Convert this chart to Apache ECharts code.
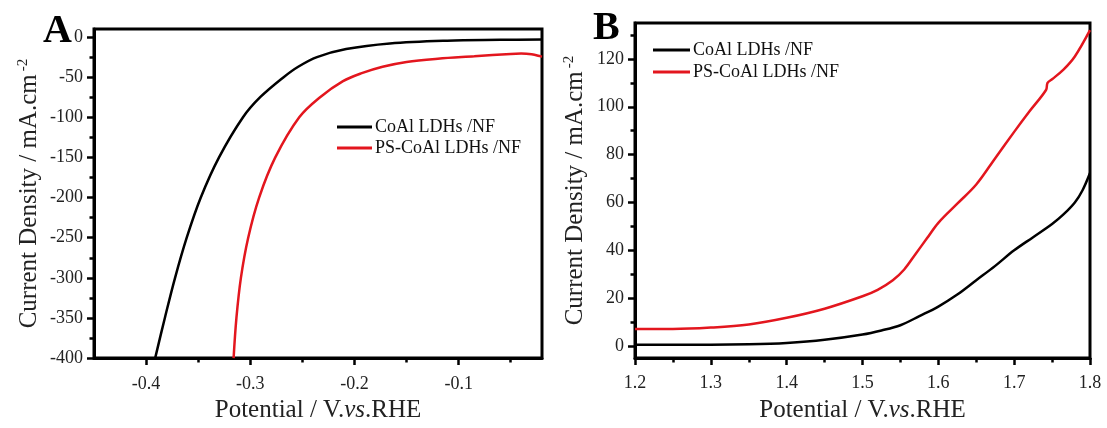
<!DOCTYPE html>
<html>
<head>
<meta charset="utf-8">
<script src="https://cdn.jsdelivr.net/npm/echarts@6/dist/echarts.min.js"></script>
<style>
  html, body { margin: 0; padding: 0; background: #fff; }
  #chart { width: 1107px; height: 428px; }
</style>
</head>
<body>
<div id="chart"></div>
<script>
// panel A (HER) - potential in V, current density in mA/cm2
const aCoAlX = [-0.3913, -0.382, -0.3722, -0.361, -0.3475, -0.33, -0.307, -0.2905, -0.268, -0.254, -0.236, -0.208, -0.166, -0.111, -0.06, -0.02]
const aCoAlY = [-400, -350, -300, -250, -200, -150, -100, -75, -50, -37, -25, -15, -8, -4.5, -3.5, -3]
const aPsX = [-0.316, -0.3133, -0.309, -0.302, -0.2915, -0.276, -0.253, -0.233, -0.211, -0.193, -0.173, -0.15, -0.12, -0.085, -0.05, -0.04, -0.03, -0.02]
const aPsY = [-400, -350, -300, -250, -200, -150, -100, -75, -55, -45, -37, -31, -27, -24, -21, -20.5, -21.5, -24.5]

// panel B (OER)
const bCoAlX = [1.2, 1.3, 1.35, 1.4, 1.45, 1.5, 1.525, 1.55, 1.575, 1.6, 1.625, 1.65, 1.675, 1.7, 1.725, 1.75, 1.765, 1.78, 1.79, 1.8]
const bCoAlY = [0.5, 0.5, 0.7, 1.3, 2.6, 4.8, 6.5, 8.7, 12.5, 16.5, 21.5, 27.5, 33.5, 40, 45.5, 51, 55, 60, 65, 72.3]
const bPsX = [1.2, 1.25, 1.3, 1.35, 1.4, 1.45, 1.5, 1.52, 1.54, 1.555, 1.57, 1.585, 1.6, 1.625, 1.65, 1.675, 1.7, 1.72, 1.742, 1.744, 1.75, 1.765, 1.78, 1.8]
const bPsY = [7.1, 7.1, 7.7, 9, 11.8, 15.6, 20.8, 23.5, 27.5, 32, 38.5, 45, 51.5, 59.5, 67.5, 78.5, 89.5, 98, 107, 110, 111.5, 115.5, 121, 132]

// ticks
const aXMajor = [-0.4, -0.3, -0.2, -0.1]
const aXMinor = [-0.35, -0.25, -0.15, -0.05]
const aYMajor = [-400, -350, -300, -250, -200, -150, -100, -50, 0]
const aYMinor = [-375, -325, -275, -225, -175, -125, -75, -25]
const bXMajor = [1.2, 1.3, 1.4, 1.5, 1.6, 1.7, 1.8]
const bXMinor = [1.25, 1.35, 1.45, 1.55, 1.65, 1.75]
const bYMajor = [0, 20, 40, 60, 80, 100, 120]
const bYMinor = [10, 30, 50, 70, 90, 110, 130]

const names = ['CoAl LDHs /NF', 'PS-CoAl LDHs /NF']
const FONT = 'Liberation Serif'
const BLACK = '#000'
const RED = '#e3161e'

const zip = (xs, ys) => xs.map((x, i) => [x, ys[i]])

const nameRich = {
  n: { fontFamily: FONT, fontSize: 25, color: '#222' },
  it: { fontFamily: FONT, fontSize: 25, fontStyle: 'italic', color: '#222' },
  sup: { fontFamily: FONT, fontSize: 15, color: '#222', verticalAlign: 'top', padding: [0, 0, 12, 3] }
}

function valueAxis(grid, min, max, major, minor, isY, name, gap, margin) {
  const main = {
    type: 'value',
    gridIndex: grid,
    min,
    max,
    position: isY ? 'left' : 'bottom',
    splitLine: { show: false },
    axisLine: { show: true, onZero: false, lineStyle: { color: BLACK, width: 3 } },
    axisTick: { show: true, customValues: major, length: 7, lineStyle: { color: BLACK, width: 2.5 } },
    axisLabel: {
      customValues: major,
      fontFamily: FONT,
      fontSize: 18,
      color: '#222',
      margin
    },
    name,
    nameLocation: 'middle',
    nameGap: gap,
    nameTextStyle: { rich: nameRich }
  }
  const sub = {
    type: 'value',
    gridIndex: grid,
    min,
    max,
    position: isY ? 'left' : 'bottom',
    splitLine: { show: false },
    axisLine: { show: false, onZero: false },
    axisTick: { show: true, customValues: minor, length: 4.5, lineStyle: { color: BLACK, width: 2.5 } },
    axisLabel: { show: false }
  }
  return [main, sub]
}

function line(name, data, color, xi, yi) {
  return {
    name,
    type: 'line',
    data,
    xAxisIndex: xi,
    yAxisIndex: yi,
    showSymbol: false,
    smooth: 0.35,
    lineStyle: { color, width: 2.5 },
    itemStyle: { color }
  }
}

const xName = '{n|Potential / V.}{it|vs}{n|.RHE}'
const yName = '{n|Current Density / mA.cm}{sup|-2}'

const chart = echarts.init(document.getElementById('chart'))

const option = {
  backgroundColor: '#fff',
  animation: false,
  title: [
    { text: 'A', left: 38, top: 7, textStyle: { fontFamily: FONT, fontSize: 40, fontWeight: 'bold', color: BLACK } },
    { text: 'B', left: 588, top: 4, textStyle: { fontFamily: FONT, fontSize: 40, fontWeight: 'bold', color: BLACK } }
  ],
  grid: [
    { left: 94, top: 29, width: 448, height: 334, show: true, borderColor: BLACK, borderWidth: 3 },
    { left: 635, top: 23, width: 455, height: 341, show: true, borderColor: BLACK, borderWidth: 3 }
  ],
  xAxis: [
    ...valueAxis(0, -0.45, -0.02, aXMajor, aXMinor, false, xName, 38, 17),
    ...valueAxis(1, 1.2, 1.8, bXMajor, bXMinor, false, xName, 40, 16)
  ],
  yAxis: [
    ...valueAxis(0, -400, 10, aYMajor, aYMinor, true, yName, 51, 11),
    ...valueAxis(1, -5, 135, bYMajor, bYMinor, true, yName, 46, 11)
  ],
  legend: [
    {
      data: names,
      orient: 'vertical',
      left: 332,
      top: 113,
      icon: 'rect',
      itemWidth: 35,
      itemHeight: 3,
      itemGap: 3,
      textStyle: { fontFamily: FONT, fontSize: 18, color: '#111', padding: [0, 0, 0, -2] }
    },
    {
      data: names,
      orient: 'vertical',
      left: 648,
      top: 36,
      icon: 'rect',
      itemWidth: 37,
      itemHeight: 3,
      itemGap: 4,
      textStyle: { fontFamily: FONT, fontSize: 18, color: '#111', padding: [0, 0, 0, -2] }
    }
  ],
  series: [
    line(names[0], zip(aCoAlX, aCoAlY), BLACK, 0, 0),
    line(names[1], zip(aPsX, aPsY), RED, 0, 0),
    line(names[0], zip(bCoAlX, bCoAlY), BLACK, 2, 2),
    line(names[1], zip(bPsX, bPsY), RED, 2, 2)
  ]
}

chart.setOption(option)
</script>
</body>
</html>
